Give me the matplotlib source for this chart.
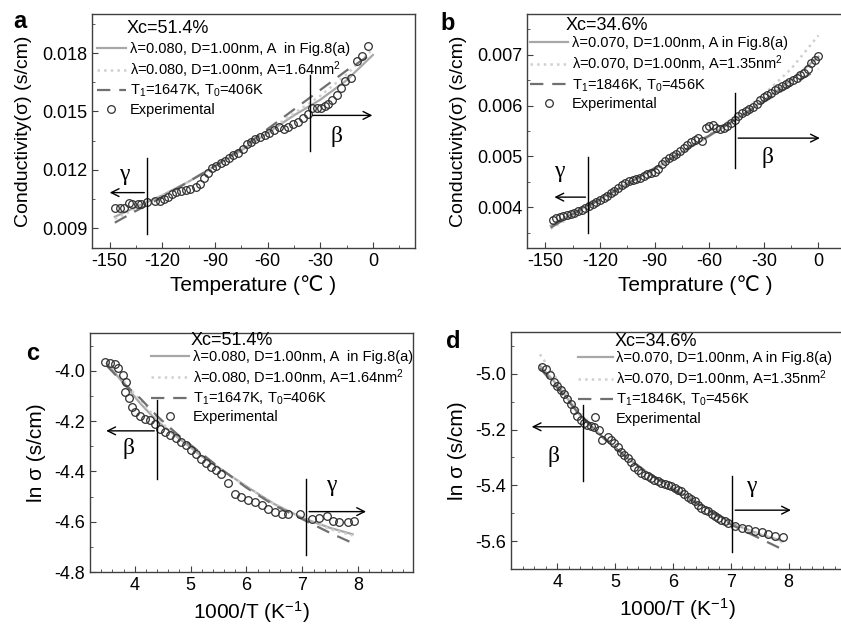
import matplotlib
matplotlib.use('Agg')
import matplotlib.pyplot as plt
from matplotlib.ticker import MultipleLocator, FormatStrFormatter

plt.rcParams['font.family'] = ['Liberation Sans', 'DejaVu Sans']
plt.rcParams['mathtext.fontset'] = 'custom'
plt.rcParams['mathtext.rm'] = 'Liberation Sans'
plt.rcParams['mathtext.it'] = 'Liberation Sans'
plt.rcParams['axes.unicode_minus'] = False

# ---- panel a : conductivity vs temperature, Xc=51.4%
a_T = [-147, -144, -142, -139, -137, -134, -132, -128.6, -124.3, -121.4, -119.2, -116.7,
       -114.2, -111.9, -109.1, -106.6, -103.9, -100.9, -98.6, -96.3, -93.8, -91.4, -89.1,
       -86.6, -84.3, -81.8, -79.6, -76.7, -74.2, -71.9, -69.7, -67.2, -64.3, -61.5, -59.0,
       -56.3, -53.3, -50.6, -48.2, -45.3, -42.4, -39.6, -36.7, -34.8, -32.0, -29.7, -27.2,
       -25.3, -23.0, -20.6, -18.3, -15.8, -12.6, -9.1, -6.3, -2.5]
a_sig = [0.01007, 0.01007, 0.01007, 0.01030, 0.01025, 0.01028, 0.01028, 0.01038, 0.01042,
         0.01042, 0.01050, 0.01064, 0.01076, 0.01088, 0.01093, 0.01098, 0.01105, 0.01115,
         0.01127, 0.01157, 0.01183, 0.01212, 0.01220, 0.01234, 0.01246, 0.01263, 0.01277,
         0.01289, 0.01306, 0.01331, 0.01343, 0.01357, 0.01370, 0.01382, 0.01391, 0.01403,
         0.01420, 0.01408, 0.01422, 0.01434, 0.01447, 0.01468, 0.01485, 0.01519, 0.01519,
         0.01519, 0.01527, 0.01541, 0.01561, 0.01587, 0.01621, 0.01655, 0.01672, 0.01757,
         0.01783, 0.01834]
a_fitT = [-147, -135, -120, -105, -90, -75, -60, -45, -30, -15, 0]
a_solid = [0.0096, 0.0101, 0.0107, 0.0114, 0.0122, 0.0130, 0.0139, 0.0148, 0.0156, 0.0166, 0.0179]
a_dotted = [0.0095, 0.0100, 0.0107, 0.0114, 0.0122, 0.0131, 0.0140, 0.0149, 0.0158, 0.0169, 0.0182]
a_dashed = [0.0093, 0.0099, 0.0106, 0.0114, 0.0122, 0.0131, 0.0141, 0.0151, 0.0161, 0.0171, 0.0180]

# ---- panel b : conductivity vs temperature, Xc=34.6%
b_T = [-146, -144, -142, -140, -138, -136, -134, -132, -130, -128, -126, -124, -122, -120,
       -118, -116, -114, -112, -110, -108, -106, -104, -102, -100, -98, -96, -94, -92, -90,
       -88, -86, -84, -82, -80, -78, -76, -74, -72, -70, -68, -66, -64, -62, -60, -58, -56,
       -54, -52, -50, -48, -46, -44, -42, -40, -38, -36, -34, -32, -30, -28, -26, -24, -22,
       -20, -18, -16, -14, -12, -10, -8, -6, -4, -2, 0]
b_sig = [0.00376, 0.00378, 0.00380, 0.00382, 0.00384, 0.00386, 0.00389, 0.00392, 0.00395,
         0.00398, 0.00402, 0.00406, 0.00410, 0.00414, 0.00418, 0.00423, 0.00428, 0.00433,
         0.00438, 0.00443, 0.00448, 0.00451, 0.00453, 0.00455, 0.00458, 0.00462, 0.00465,
         0.00468, 0.00470, 0.00475, 0.00485, 0.00492, 0.00496, 0.00500, 0.00505, 0.00510,
         0.00516, 0.00522, 0.00528, 0.00533, 0.00537, 0.00530, 0.00555, 0.00560, 0.00562,
         0.00556, 0.00553, 0.00555, 0.00560, 0.00566, 0.00572, 0.00580, 0.00586, 0.00590,
         0.00594, 0.00598, 0.00604, 0.00610, 0.00616, 0.00620, 0.00624, 0.00630, 0.00634,
         0.00638, 0.00642, 0.00647, 0.00651, 0.00655, 0.00660, 0.00664, 0.00672, 0.00684,
         0.00690, 0.00698]
b_fitT = [-147, -135, -120, -105, -90, -75, -60, -45, -30, -15, 0]
b_solid = [0.00364, 0.00388, 0.00416, 0.00446, 0.00476, 0.00508, 0.00540, 0.00574, 0.00610, 0.00650, 0.00696]
b_dotted = [0.00358, 0.00382, 0.00411, 0.00442, 0.00474, 0.00508, 0.00543, 0.00580, 0.00622, 0.00672, 0.00738]
b_dashed = [0.00360, 0.00386, 0.00415, 0.00446, 0.00477, 0.00509, 0.00541, 0.00574, 0.00607, 0.00640, 0.00672]

# ---- panel c : ln sigma vs 1000/T, Xc=51.4%
c_x = [3.47, 3.56, 3.65, 3.71, 3.79, 3.83, 3.85, 3.89, 3.95, 4.01, 4.10, 4.19, 4.28, 4.37,
       4.46, 4.55, 4.64, 4.73, 4.83, 4.92, 5.01, 5.10, 5.19, 5.28, 5.37, 5.46, 5.55, 5.67,
       5.79, 5.91, 6.03, 6.15, 6.27, 6.39, 6.51, 6.63, 6.75, 6.96, 7.17, 7.30, 7.45, 7.54,
       7.66, 7.81, 7.93]
c_ln = [-3.967, -3.968, -3.973, -3.990, -4.017, -4.084, -4.044, -4.110, -4.143, -4.163,
        -4.180, -4.190, -4.196, -4.210, -4.230, -4.243, -4.256, -4.269, -4.283, -4.296,
        -4.316, -4.329, -4.349, -4.366, -4.382, -4.395, -4.409, -4.448, -4.488, -4.501,
        -4.515, -4.521, -4.535, -4.551, -4.561, -4.570, -4.570, -4.570, -4.588, -4.584,
        -4.578, -4.597, -4.601, -4.601, -4.597]
c_fitx = [3.5, 3.8, 4.1, 4.4, 4.8, 5.2, 5.6, 6.0, 6.5, 7.0, 7.5, 7.9]
c_solid = [-3.97, -4.05, -4.13, -4.20, -4.27, -4.34, -4.40, -4.46, -4.53, -4.585, -4.625, -4.650]
c_dotted = [-3.96, -4.04, -4.12, -4.19, -4.27, -4.34, -4.40, -4.46, -4.53, -4.585, -4.630, -4.655]
c_dashed = [-3.98, -4.05, -4.11, -4.18, -4.26, -4.33, -4.40, -4.465, -4.535, -4.590, -4.645, -4.685]

# ---- panel d : ln sigma vs 1000/T, Xc=34.6%
d_x = [3.74, 3.80, 3.87, 3.94, 4.00, 4.06, 4.12, 4.17, 4.23, 4.29, 4.35, 4.41, 4.47, 4.52,
       4.58, 4.64, 4.72, 4.78, 4.87, 4.93, 4.99, 5.05, 5.10, 5.16, 5.22, 5.28, 5.33, 5.39,
       5.45, 5.51, 5.57, 5.62, 5.68, 5.74, 5.80, 5.86, 5.91, 5.97, 6.03, 6.09, 6.14, 6.20,
       6.26, 6.32, 6.38, 6.44, 6.49, 6.55, 6.61, 6.67, 6.72, 6.78, 6.84, 6.90, 6.96, 7.07,
       7.19, 7.30, 7.42, 7.54, 7.65, 7.77, 7.90]
d_ln = [-4.974, -4.982, -5.005, -5.030, -5.045, -5.059, -5.074, -5.089, -5.110, -5.131,
        -5.150, -5.166, -5.176, -5.184, -5.188, -5.190, -5.200, -5.238, -5.226, -5.238,
        -5.249, -5.264, -5.279, -5.291, -5.303, -5.318, -5.333, -5.345, -5.356, -5.362,
        -5.368, -5.374, -5.380, -5.386, -5.392, -5.395, -5.398, -5.404, -5.410, -5.416,
        -5.422, -5.431, -5.440, -5.448, -5.457, -5.469, -5.481, -5.487, -5.493, -5.502,
        -5.511, -5.517, -5.523, -5.529, -5.535, -5.544, -5.552, -5.558, -5.564, -5.568,
        -5.573, -5.580, -5.587]
d_fitx = [3.7, 4.0, 4.4, 4.8, 5.2, 5.6, 6.0, 6.5, 7.0, 7.5, 7.9]
d_solid = [-4.97, -5.04, -5.15, -5.23, -5.30, -5.36, -5.41, -5.47, -5.535, -5.575, -5.600]
d_dotted = [-4.93, -5.02, -5.14, -5.23, -5.30, -5.36, -5.41, -5.47, -5.535, -5.575, -5.605]
d_dashed = [-4.98, -5.05, -5.15, -5.23, -5.30, -5.36, -5.415, -5.475, -5.540, -5.590, -5.630]

labels_a = ['λ=0.080, D=1.00nm, A  in Fig.8(a)', 'λ=0.080, D=1.00nm, A=1.64nm$^2$',
            'T$_1$=1647K, T$_0$=406K', 'Experimental']
labels_b = ['λ=0.070, D=1.00nm, A in Fig.8(a)', 'λ=0.070, D=1.00nm, A=1.35nm$^2$',
            'T$_1$=1846K, T$_0$=456K', 'Experimental']

W, H = 841, 625
fig = plt.figure(figsize=(W / 100, H / 100), dpi=100)


def add_axes(l, r, t, b):
    return fig.add_axes([l / W, 1 - b / H, (r - l) / W, (b - t) / H])


def panel(ax, fx, solid, dotted, dashed, ex, ey, labels, hl):
    ax.plot(fx, solid, '-', color='#a8a8a8', lw=1.6, label=labels[0], zorder=2)
    ax.plot(fx, dotted, ':', color='#d0d0d0', lw=1.8, label=labels[1], zorder=2)
    ax.plot(fx, dashed, '--', color='#707070', lw=1.6, dashes=(6, 4), label=labels[2], zorder=2)
    ax.plot(ex, ey, 'o', mfc='none', mec='#303030', mew=0.9, ms=5.5, label=labels[3], zorder=3)
    for s in ax.spines.values():
        s.set_color('#404040')
        s.set_linewidth(1.0)
    ax.tick_params(which='both', direction='in', top=False, right=False,
                   labelsize=13, color='#404040')
    ax.tick_params(which='major', length=4)
    ax.tick_params(which='minor', length=2.5)
    return ax.legend(loc='upper left', frameon=False, fontsize=10.5, handlelength=hl,
                     handletextpad=0.25, labelspacing=0.22, borderpad=0, borderaxespad=0)


def mark(ax, x, y0, y1, ya, xa, lab, lx, ly):
    ax.plot([x, x], [y0, y1], color='black', lw=1.0, zorder=4)
    ax.annotate('', xy=(xa, ya), xytext=(x, ya),
                arrowprops=dict(arrowstyle='->', color='black', lw=1.0,
                                mutation_scale=14), zorder=4)
    ax.text(lx, ly, lab, family='Liberation Serif', fontsize=17, ha='center', va='center')


# panel a
ax = add_axes(92, 415, 14, 248)
leg = panel(ax, a_fitT, a_solid, a_dotted, a_dashed, a_T, a_sig, labels_a, 2.0)
leg.set_bbox_to_anchor((0.015, 0.88))
ax.set_xlim(-160, 24)
ax.set_ylim(0.008, 0.020)
ax.xaxis.set_major_locator(MultipleLocator(30))
ax.xaxis.set_minor_locator(MultipleLocator(15))
ax.yaxis.set_major_locator(MultipleLocator(0.003))
ax.yaxis.set_minor_locator(MultipleLocator(0.0015))
ax.yaxis.set_major_formatter(FormatStrFormatter('%.3f'))
ax.set_xlabel('Temperature (℃ )', fontsize=15, labelpad=4)
ax.set_ylabel('Conductivity(σ) (s/cm)', fontsize=14, labelpad=7)
ax.text(0.108, 0.94, 'Xc=51.4%', transform=ax.transAxes, fontsize=13, va='center')
mark(ax, -128.6, 0.0087, 0.01263, 0.01084, -151.5, 'γ', -141.4, 0.01178)
mark(ax, -35.8, 0.01689, 0.01297, 0.0148, 1.3, 'β', -20.6, 0.01374)
fig.text(20 / W, 1 - 21 / H, 'a', fontsize=17, fontweight='bold', va='center', ha='center')

# panel b
ax = add_axes(527, 864, 14, 248)
leg = panel(ax, b_fitT, b_solid, b_dotted, b_dashed, b_T, b_sig, labels_b, 2.6)
leg.set_bbox_to_anchor((0.01, 0.905))
ax.set_xlim(-160, 25)
ax.set_ylim(0.0032, 0.0078)
ax.xaxis.set_major_locator(MultipleLocator(30))
ax.xaxis.set_minor_locator(MultipleLocator(15))
ax.yaxis.set_major_locator(MultipleLocator(0.001))
ax.yaxis.set_minor_locator(MultipleLocator(0.0005))
ax.yaxis.set_major_formatter(FormatStrFormatter('%.3f'))
ax.set_xlabel('Temprature (℃ )', fontsize=15, labelpad=4)
ax.set_ylabel('Conductivity(σ) (s/cm)', fontsize=14, labelpad=7)
ax.text(0.115, 0.95, 'Xc=34.6%', transform=ax.transAxes, fontsize=13, va='center')
mark(ax, -126.4, 0.00499, 0.0035, 0.0042, -146.5, 'γ', -142.3, 0.0047)
mark(ax, -45.6, 0.00625, 0.00478, 0.00536, 2.3, 'β', -27.8, 0.00497)
fig.text(448 / W, 1 - 23 / H, 'b', fontsize=17, fontweight='bold', va='center', ha='center')

# panel c
ax = add_axes(90, 413, 333, 572)
leg = panel(ax, c_fitx, c_solid, c_dotted, c_dashed, c_x, c_ln, labels_a, 2.6)
leg.set_bbox_to_anchor((0.19, 0.93))
ax.set_xlim(3.2, 8.98)
ax.set_ylim(-4.8, -3.85)
ax.xaxis.set_major_locator(MultipleLocator(1))
ax.xaxis.set_minor_locator(MultipleLocator(0.2))
ax.yaxis.set_major_locator(MultipleLocator(0.2))
ax.yaxis.set_minor_locator(MultipleLocator(0.1))
ax.yaxis.set_major_formatter(FormatStrFormatter('%.1f'))
ax.set_xlabel('1000/T (K$^{-1}$)', fontsize=15, labelpad=4)
ax.set_ylabel('ln σ (s/cm)', fontsize=15, labelpad=6)
ax.text(0.312, 0.968, 'Xc=51.4%', transform=ax.transAxes, fontsize=13, va='center')
mark(ax, 4.40, -4.117, -4.429, -4.239, 3.44, 'β', 3.89, -4.31)
mark(ax, 7.07, -4.429, -4.734, -4.56, 8.19, 'γ', 7.51, -4.456)
fig.text(33 / W, 1 - 353 / H, 'c', fontsize=17, fontweight='bold', va='center', ha='center')

# panel d
ax = add_axes(511, 844, 332, 569)
leg = panel(ax, d_fitx, d_solid, d_dotted, d_dashed, d_x, d_ln, labels_b, 2.4)
leg.set_bbox_to_anchor((0.2, 0.92))
ax.set_xlim(3.2, 8.96)
ax.set_ylim(-5.7, -4.85)
ax.xaxis.set_major_locator(MultipleLocator(1))
ax.xaxis.set_minor_locator(MultipleLocator(0.2))
ax.yaxis.set_major_locator(MultipleLocator(0.2))
ax.yaxis.set_minor_locator(MultipleLocator(0.1))
ax.yaxis.set_major_formatter(FormatStrFormatter('%.1f'))
ax.set_xlabel('1000/T (K$^{-1}$)', fontsize=15, labelpad=4)
ax.set_ylabel('ln σ (s/cm)', fontsize=15, labelpad=6)
ax.text(0.312, 0.962, 'Xc=34.6%', transform=ax.transAxes, fontsize=13, va='center')
mark(ax, 4.45, -5.113, -5.383, -5.19, 3.51, 'β', 3.94, -5.297)
mark(ax, 7.03, -5.365, -5.638, -5.489, 8.09, 'γ', 7.36, -5.404)
fig.text(453 / W, 1 - 342 / H, 'd', fontsize=17, fontweight='bold', va='center', ha='center')

fig.savefig('out.png', dpi=100)
